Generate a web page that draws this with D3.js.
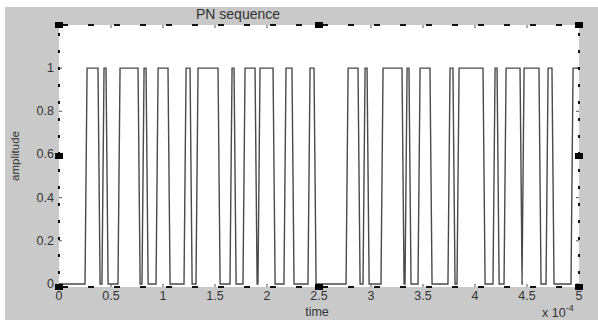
<!DOCTYPE html>
<html>
<head>
<meta charset="utf-8">
<script src="https://cdn.jsdelivr.net/npm/d3@7"></script>
<style>
  html, body { margin: 0; padding: 0; background: #fff; }
  svg { display: block; }
</style>
</head>
<body>
<div id="container"></div>
<script>
// switching instants of the PN waveform, in units of 1e-4 s (starts at 0)
const switchTimes = [
  0.25, 0.375, 0.413, 0.452, 0.567, 0.76, 0.798, 0.837, 0.933, 1.048,
  1.202, 1.26, 1.317, 1.529, 1.644, 1.683, 1.769, 1.885, 1.913, 2.058,
  2.163, 2.24, 2.394, 2.452, 2.76, 2.875, 2.923, 2.962, 3.096, 3.298,
  3.327, 3.365, 3.452, 3.567, 3.74, 3.788, 3.827, 4.077, 4.173, 4.212,
  4.279, 4.433, 4.452, 4.615, 4.683, 4.74, 4.923
];
const startLevel = 0;
const rampTime = 0.02; // each edge is plotted as a short ramp between samples

const xTicks = [0, 0.5, 1, 1.5, 2, 2.5, 3, 3.5, 4, 4.5, 5];
const xTickLabels = ['0', '0.5', '1', '1.5', '2', '2.5', '3', '3.5', '4', '4.5', '5'];
const yTicks = [0, 0.2, 0.4, 0.6, 0.8, 1];
const yTickLabels = ['0', '0.2', '0.4', '0.6', '0.8', '1'];

const W = 598, H = 320;
const box = { left: 59, right: 579, top: 25, bottom: 287 };
const font = 'Liberation Sans, Arial, sans-serif';
const ink = '#333';

const svg = d3.select('#container')
    .append('svg')
    .attr('width', W)
    .attr('height', H);

// figure background
svg.append('rect')
    .attr('x', 5).attr('y', 7)
    .attr('width', W - 5).attr('height', H - 7)
    .attr('fill', '#c9c9c9');

svg.append('rect')
    .attr('x', box.left).attr('y', box.top)
    .attr('width', box.right - box.left).attr('height', box.bottom - box.top)
    .attr('fill', '#fff');

const x = d3.scaleLinear().domain([0, 5]).range([box.left, box.right]);
const y = d3.scaleLinear().domain([-0.014, 1.2]).range([box.bottom, box.top]);

// waveform vertices
let level = startLevel;
const pts = [[0, level]];
switchTimes.forEach(t => {
    pts.push([t, level]);
    level = 1 - level;
    pts.push([t + rampTime, level]);
});
pts.push([5, level]);

svg.append('path')
    .datum(pts)
    .attr('fill', 'none')
    .attr('stroke', '#4a4a4a')
    .attr('stroke-width', 1.4)
    .attr('d', d3.line().x(d => x(d[0])).y(d => y(d[1])));

// inward ticks on all four sides
const tk = svg.append('g').attr('stroke', '#555').attr('stroke-width', 1);
xTicks.forEach(v => {
    tk.append('line').attr('x1', x(v)).attr('x2', x(v)).attr('y1', box.bottom).attr('y2', box.bottom - 3);
    tk.append('line').attr('x1', x(v)).attr('x2', x(v)).attr('y1', box.top).attr('y2', box.top + 3);
});
yTicks.forEach(v => {
    tk.append('line').attr('x1', box.left).attr('x2', box.left + 3).attr('y1', y(v)).attr('y2', y(v));
    tk.append('line').attr('x1', box.right).attr('x2', box.right - 3).attr('y1', y(v)).attr('y2', y(v));
});

// dashed selection outline
const dash = svg.append('g').attr('stroke', '#111').attr('stroke-width', 2).attr('fill', 'none');
dash.append('line').attr('x1', box.left).attr('x2', box.right).attr('y1', box.top).attr('y2', box.top)
    .attr('stroke-dasharray', '6,20').attr('stroke-dashoffset', -3);
dash.append('line').attr('x1', box.left).attr('x2', box.right).attr('y1', box.bottom).attr('y2', box.bottom)
    .attr('stroke-dasharray', '6,20').attr('stroke-dashoffset', -3);
dash.append('line').attr('x1', box.left).attr('x2', box.left).attr('y1', box.top).attr('y2', box.bottom)
    .attr('stroke-dasharray', '3,14').attr('stroke-dashoffset', -8);
dash.append('line').attr('x1', box.right).attr('x2', box.right).attr('y1', box.top).attr('y2', box.bottom)
    .attr('stroke-dasharray', '3,14').attr('stroke-dashoffset', -8);

// selection handles
const midX = (box.left + box.right) / 2, midY = (box.top + box.bottom) / 2;
const handles = [
    [box.left, box.top], [midX, box.top], [box.right, box.top],
    [box.left, midY], [box.right, midY],
    [box.left, box.bottom], [midX, box.bottom], [box.right, box.bottom]
];
svg.append('g').selectAll('rect')
    .data(handles).enter()
    .append('rect')
    .attr('x', d => d[0] - 4).attr('y', d => d[1] - 3)
    .attr('width', 8).attr('height', 6)
    .attr('fill', '#000');

// tick labels
svg.append('g').selectAll('text')
    .data(xTicks).enter()
    .append('text')
    .attr('x', d => x(d))
    .attr('y', box.bottom + 13)
    .attr('text-anchor', 'middle')
    .attr('font-family', font).attr('font-size', 12.5).attr('fill', ink)
    .text((d, i) => xTickLabels[i]);

svg.append('g').selectAll('text')
    .data(yTicks).enter()
    .append('text')
    .attr('x', box.left - 5)
    .attr('y', d => y(d) + 4)
    .attr('text-anchor', 'end')
    .attr('font-family', font).attr('font-size', 12.5).attr('fill', ink)
    .text((d, i) => yTickLabels[i]);

// title and axis labels
svg.append('text')
    .attr('x', 238).attr('y', 19)
    .attr('text-anchor', 'middle')
    .attr('font-family', font).attr('font-size', 14).attr('fill', ink)
    .text('PN sequence');

svg.append('text')
    .attr('x', 317).attr('y', 316)
    .attr('text-anchor', 'middle')
    .attr('font-family', font).attr('font-size', 12.5).attr('fill', ink)
    .text('time');

svg.append('text')
    .attr('transform', `translate(19, ${midY}) rotate(-90)`)
    .attr('text-anchor', 'middle')
    .attr('font-family', font).attr('font-size', 11.5).attr('fill', ink)
    .text('amplitude');

const mult = svg.append('text')
    .attr('x', 542).attr('y', 317)
    .attr('font-family', font).attr('font-size', 12.5).attr('fill', ink);
mult.append('tspan').text('x 10');
mult.append('tspan').attr('dy', -6).attr('font-size', 9).text('-4');
</script>
</body>
</html>
